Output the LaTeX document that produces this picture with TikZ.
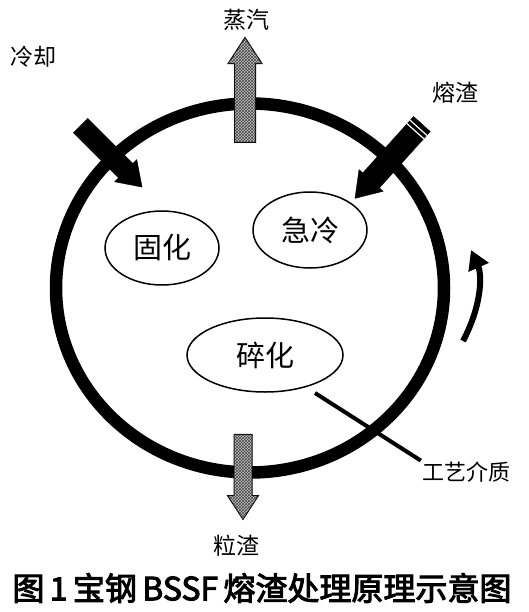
\documentclass[tikz,border=0pt]{standalone}
\usepackage{fontspec}
\newfontfamily\cjk{Noto Sans CJK SC}
\newfontfamily\cjkcap{Noto Sans CJK SC}[FakeBold=3]
\usetikzlibrary{shapes,arrows.meta,patterns,positioning,calc}

\begin{document}
\begin{tikzpicture}[x=1pt, y=-1pt,
    phase/.style={ellipse, draw, line width=1.5pt, inner sep=0pt, font=\cjk\fontsize{29}{29}\selectfont},
    outlabel/.style={font=\cjk\fontsize{23}{23}\selectfont, inner sep=1pt},
    feed/.style={single arrow, draw, fill=black, inner xsep=0pt, single arrow tip angle=68},
    outflow/.style={single arrow, draw, line width=1pt, fill=gray!45, postaction={pattern=crosshatch, pattern color=black!75}, inner xsep=0pt, single arrow tip angle=66}
]
\useasboundingbox (0,0) rectangle (528,612);

% Vessel
\node[draw, ellipse, line width=12.5pt, minimum width=388pt, minimum height=369pt] (vessel) at (250,288) {};

% Phases inside the vessel
\node[phase, minimum width=114pt, minimum height=74pt] (solid) at (162,248) {固化};
\node[phase, minimum width=114pt, minimum height=76pt] (quench) at (310,230) {急冷};
\node[phase, minimum width=156pt, minimum height=74pt] (crush) at (265,355) {碎化};

% In- and outflows
\node[outflow, rotate=90, minimum height=105pt, inner ysep=10pt, single arrow head extend=6.5pt] (steam) at (245,98) {};
\node[outflow, rotate=-90, minimum height=85pt, inner ysep=8.5pt, single arrow head extend=6.5pt] (granule) at (243,470) {};
\node[feed, rotate=-45, minimum height=87pt, inner ysep=10pt, single arrow head extend=5.5pt] (coolin) at (106,151) {};
\node[feed, rotate=-132, minimum height=100pt, inner ysep=11pt, single arrow head extend=5pt] (slagin) at (394,155) {};
% stripes at the slag tail
\foreach \s in {0.07,0.13}
  \draw[white, line width=1.2pt] ($(slagin.before tail)!\s!(slagin.after head)$) -- ($(slagin.after tail)!\s!(slagin.before head)$);

% Labels
\node[outlabel] (steamtxt) at (246,20) {蒸汽};
\node[outlabel] (cooltxt) at (33,57) {冷却};
\node[outlabel] (slagtxt) at (455,93) {熔渣};
\node[outlabel] (granuletxt) at (236,546) {粒渣};
\node[outlabel, font=\cjk\fontsize{22}{22}\selectfont] (medium) at (466,472) {工艺介质};

% Rotation arrow
\coordinate (rot0) at (463,341);
\coordinate (rot1) at (471,250);
\draw[line width=6pt, -{Triangle[length=19pt,width=21pt]}] (rot0) .. controls (482,305) and (482,275) .. (rot1);

% Pointer to the medium
\coordinate (mpt) at (315,393);
\draw[line width=4pt] (mpt) -- (medium.north west);

% Caption
\node[font=\cjkcap\fontsize{32}{32}\selectfont, inner sep=0pt] (caption) at (262,588) {图\,1\,宝钢\,BSSF\,熔渣处理原理示意图};
\end{tikzpicture}
\end{document}
